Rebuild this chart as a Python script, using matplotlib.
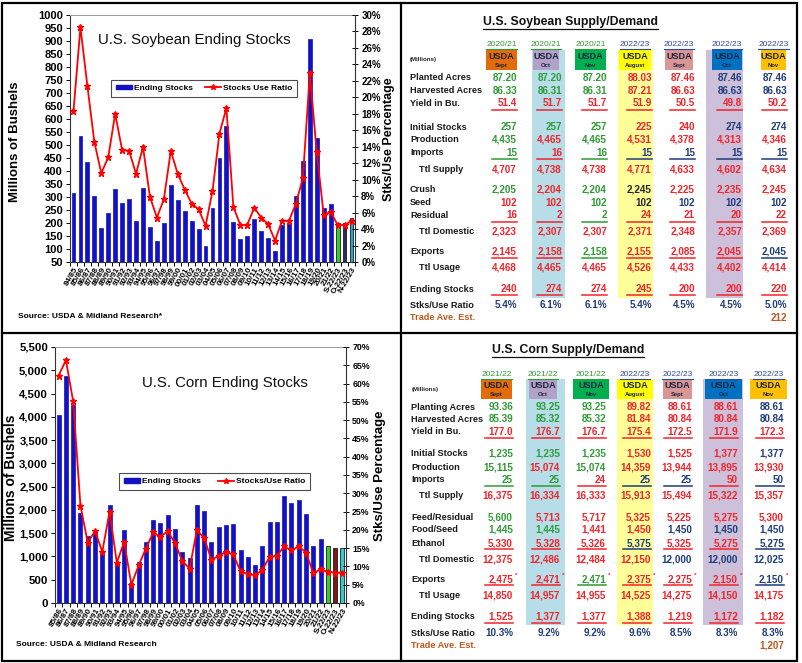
import numpy as np
import matplotlib
matplotlib.use('Agg')
import matplotlib.pyplot as plt
from matplotlib.patches import Rectangle, Patch
from matplotlib.lines import Line2D
from matplotlib.ticker import FuncFormatter

plt.rcParams['font.family'] = ['Liberation Sans', 'DejaVu Sans']
plt.rcParams['font.weight'] = 'bold'

# ---------------- chart data ----------------
soy_labels = ['84/85', '85/86', '86/87', '87/88', '88/89', '89/90', '90/91', '91/92', '92/93', '93/94',
              '94/95', '95/96', '96/97', '97/98', '98/99', '99/00', '00/01', '01/02', '02/03', '03/04',
              '04/05', '05/06', '06/07', '07/08', '08/09', '09/10', '10/11', '11/12', '12/13', '13/14',
              '14/15', '15/16', '16/17', '17/18', '18/19', '19/20', '20/21', '21/22',
              'S-22/23', 'O-22/23', 'N-22/23']
soy_stocks = [316, 536, 436, 302, 182, 239, 329, 278, 292, 209,
              335, 183, 132, 200, 348, 290, 248, 208, 178, 112,
              256, 449, 574, 205, 138, 151, 215, 169, 141, 92,
              191, 197, 302, 438, 909, 525, 257, 274,
              200, 200, 220]
soy_ratio = [18.3, 28.5, 21.4, 14.6, 10.8, 12.7, 18.0, 13.6, 13.5, 10.7,
             14.0, 7.9, 5.4, 7.6, 13.5, 10.7, 8.8, 7.1, 6.4, 4.4,
             8.6, 15.6, 18.7, 6.7, 4.5, 4.5, 6.6, 5.4, 4.6, 2.6,
             5.0, 5.0, 7.1, 10.2, 22.9, 13.3, 5.7, 6.1,
             4.5, 4.5, 5.0]

corn_labels = ['85/86', '86/87', '87/88', '88/89', '89/90', '90/91', '91/92', '92/93', '93/94', '94/95',
               '95/96', '96/97', '97/98', '98/99', '99/00', '00/01', '01/02', '02/03', '03/04', '04/05',
               '05/06', '06/07', '07/08', '08/09', '09/10', '10/11', '11/12', '12/13', '13/14', '14/15',
               '15/16', '16/17', '17/18', '18/19', '19/20', '20/21', '21/22',
               'S-22/23', 'O-22/23', 'N-22/23']
corn_stocks = [4040, 4880, 4260, 1930, 1450, 1520, 1100, 2110, 850, 1560,
               426, 883, 1310, 1787, 1718, 1899, 1596, 1087, 958, 2114,
               1967, 1304, 1624, 1673, 1708, 1128, 989, 821, 1232, 1731,
               1737, 2293, 2140, 2221, 1919, 1235, 1377,
               1219, 1172, 1182]
corn_ratio = [62.2, 66.4, 55.1, 26.6, 16.5, 19.7, 14.0, 25.0, 11.0, 16.7,
              5.0, 10.3, 14.9, 19.3, 18.1, 19.7, 16.3, 11.5, 9.4, 19.9,
              17.8, 11.8, 12.9, 14.0, 13.3, 8.7, 7.9, 7.6, 9.1, 12.6,
              12.9, 15.5, 14.4, 15.5, 13.8, 8.2, 9.2,
              8.5, 8.3, 8.3]

# ---------------- table data ----------------
soy_years = ['2020/21', '2020/21', '2020/21', '2022/23', '2022/23', '2022/23', '2022/23']
soy_months = ['Sept', 'Oct', 'Nov', 'August', 'Sept', 'Oct', 'Nov']
soy_rows = ['Planted Acres', 'Harvested Acres', 'Yield in Bu.',
            'Initial Stocks', 'Production', 'Imports', 'Ttl Supply',
            'Crush', 'Seed', 'Residual', 'Ttl Domestic',
            'Exports', 'Ttl Usage', 'Ending Stocks', 'Stks/Use Ratio']
soy_values = [
    ['87.20', '87.20', '87.20', '88.03', '87.46', '87.46', '87.46'],
    ['86.33', '86.31', '86.31', '87.21', '86.63', '86.63', '86.63'],
    ['51.4', '51.7', '51.7', '51.9', '50.5', '49.8', '50.2'],
    ['257', '257', '257', '225', '240', '274', '274'],
    ['4,435', '4,465', '4,465', '4,531', '4,378', '4,313', '4,346'],
    ['15', '16', '16', '15', '15', '15', '15'],
    ['4,707', '4,738', '4,738', '4,771', '4,633', '4,602', '4,634'],
    ['2,205', '2,204', '2,204', '2,245', '2,225', '2,235', '2,245'],
    ['102', '102', '102', '102', '102', '102', '102'],
    ['16', '2', '2', '24', '21', '20', '22'],
    ['2,323', '2,307', '2,307', '2,371', '2,348', '2,357', '2,369'],
    ['2,145', '2,158', '2,158', '2,155', '2,085', '2,045', '2,045'],
    ['4,468', '4,465', '4,465', '4,526', '4,433', '4,402', '4,414'],
    ['240', '274', '274', '245', '200', '200', '220'],
    ['5.4%', '6.1%', '6.1%', '5.4%', '4.5%', '4.5%', '5.0%'],
]
soy_trade = ['', '', '', '', '', '', '212']

corn_years = ['2021/22', '2021/22', '2021/22', '2022/23', '2022/23', '2022/23', '2022/23']
corn_months = ['Sept', 'Oct', 'Nov', 'August', 'Sept', 'Oct', 'Nov']
corn_rows = ['Planting Acres', 'Harvested Acres', 'Yield in Bu.',
             'Initial Stocks', 'Production', 'Imports', 'Ttl Supply',
             'Feed/Residual', 'Food/Seed', 'Ethanol', 'Ttl Domestic',
             'Exports', 'Ttl Usage', 'Ending Stocks', 'Stks/Use Ratio']
corn_values = [
    ['93.36', '93.25', '93.25', '89.82', '88.61', '88.61', '88.61'],
    ['85.39', '85.32', '85.32', '81.84', '80.84', '80.84', '80.84'],
    ['177.0', '176.7', '176.7', '175.4', '172.5', '171.9', '172.3'],
    ['1,235', '1,235', '1,235', '1,530', '1,525', '1,377', '1,377'],
    ['15,115', '15,074', '15,074', '14,359', '13,944', '13,895', '13,930'],
    ['25', '25', '24', '25', '25', '50', '50'],
    ['16,375', '16,334', '16,333', '15,913', '15,494', '15,322', '15,357'],
    ['5,600', '5,713', '5,717', '5,325', '5,225', '5,275', '5,300'],
    ['1,445', '1,445', '1,441', '1,450', '1,450', '1,450', '1,450'],
    ['5,330', '5,328', '5,326', '5,375', '5,325', '5,275', '5,275'],
    ['12,375', '12,486', '12,484', '12,150', '12,000', '12,000', '12,025'],
    ['2,475', '2,471', '2,471', '2,375', '2,275', '2,150', '2,150'],
    ['14,850', '14,957', '14,955', '14,525', '14,275', '14,150', '14,175'],
    ['1,525', '1,377', '1,377', '1,388', '1,219', '1,172', '1,182'],
    ['10.3%', '9.2%', '9.2%', '9.6%', '8.5%', '8.3%', '8.3%'],
]
corn_trade = ['', '', '', '', '', '', '1,207']

# ---------------- styles ----------------
G, R, N, K = '#2F9A36', '#F2242B', '#1F3C7A', '#262626'
BRN = '#C0561E'
CMAP = {'g': G, 'r': R, 'n': N, 'k': K}
soy_col_codes = ['gggrrnn', 'gggrrnn', 'rrrrrrr', 'gggrrnn', 'grgrrrr', 'grgnnnn', 'rrrrrrr',
                 'grgkrrr', 'rrgknnn', 'rrgrrrr', 'rrrrrrr', 'rrgrrrn', 'rrrrrrr', 'rrrrrrr', 'nnnnnnn']
corn_col_codes = ['gggrrrn', 'gggrrrn', 'rrrrrrr', 'gggrrrn', 'grgrrrr', 'ggrnnrn', 'rrrrrrr',
                  'grrrrrr', 'ggrrnnn', 'rrrnrrn', 'rrrrnnn', 'rrgrrrn', 'rrrrrrr', 'rrrrrrr', 'nnnnnnn']
BOX_COLORS = ['#E36C09', '#B3A2C7', '#00B050', '#FFFF00', '#DA9694', '#0070C0', '#FFC000']
BLUE = '#1212C4'

W, H = 803, 663
fig = plt.figure(figsize=(W / 100, H / 100), dpi=100)
bg = fig.add_axes([0, 0, 1, 1], zorder=0)
bg.set_xlim(0, W)
bg.set_ylim(H, 0)
bg.axis('off')


def frac(x0, y0, x1, y1):
    return [x0 / W, 1 - y1 / H, (x1 - x0) / W, (y1 - y0) / H]


def draw_chart(rect, labels, stocks, ratio, tail_colors, ylim, ystep, yfmt, rmax, rstep,
               title, title_pos, leg_center, leg_spacing, line_label, yfs, rfs):
    ax = fig.add_axes(rect, zorder=2)
    n = len(labels)
    x = np.arange(n)
    cols = [BLUE] * (n - 3) + tail_colors
    edges = [BLUE] * (n - 3) + ['black'] * 3
    ax.bar(x, stocks, width=0.55, color=cols, edgecolor=edges, linewidth=0.5)
    ax.set_xlim(-0.5, n - 0.5)
    ax.set_ylim(*ylim)
    ax.set_yticks(np.arange(ylim[0], ylim[1] + 1, ystep))
    ax.yaxis.set_major_formatter(FuncFormatter(yfmt))
    ax.set_xticks(x)
    ax.set_xticklabels(labels, rotation=60, ha='right', rotation_mode='anchor', fontsize=5.8)
    ax.tick_params(axis='x', which='major', length=0, pad=3)
    ax.set_xticks(np.arange(-0.5, n, 1), minor=True)
    ax.tick_params(axis='x', which='minor', length=3, direction='out', width=0.7)
    ax.tick_params(axis='y', labelsize=yfs, length=3, direction='out', pad=2, width=0.7)
    ax.spines['top'].set_color('#9a9a9a')
    ax.spines['top'].set_linewidth(0.7)
    ax.spines['right'].set_visible(False)
    for s in ('left', 'bottom'):
        ax.spines[s].set_color('#333333')
        ax.spines[s].set_linewidth(0.8)
    ax2 = ax.twinx()
    ax2.plot(x, ratio, color='#FF0000', lw=1.3, marker='*', ms=5, mec='#FF0000')
    ax2.set_ylim(0, rmax)
    ax2.set_yticks(np.arange(0, rmax + 0.01, rstep))
    ax2.yaxis.set_major_formatter(FuncFormatter(lambda v, p: f'{v:.0f}%'))
    ax2.tick_params(axis='y', labelsize=rfs, length=5, direction='inout', pad=2, width=0.7)
    for s in ('left', 'top', 'bottom'):
        ax2.spines[s].set_visible(False)
    ax2.spines['right'].set_color('#333333')
    ax2.spines['right'].set_linewidth(0.8)
    ax2.text(title_pos[0], title_pos[1], title, transform=ax.transAxes, ha='center', va='center',
             fontsize=10.8, fontweight='normal', color='#111111')
    handles = [Patch(facecolor=BLUE, edgecolor=BLUE),
               Line2D([], [], color='#FF0000', lw=1.3, marker='*', ms=4)]
    leg = ax2.legend(handles, ['Ending Stocks', line_label], loc='center', bbox_to_anchor=leg_center,
                     ncol=2, fontsize=6, frameon=True, fancybox=False,
                     edgecolor='#222222', handlelength=2.0, handleheight=0.5, borderpad=0.55,
                     handletextpad=0.2, columnspacing=leg_spacing, borderaxespad=0)
    leg.get_frame().set_linewidth(0.8)
    return ax, ax2


# Soybean chart
draw_chart(frac(70, 15, 355, 262), soy_labels, soy_stocks, soy_ratio,
           ['#33CC33', '#3B2466', '#2FA3C8'], (50, 1000), 50, lambda v, p: f'{v:.0f}',
           30, 2, 'U.S. Soybean Ending Stocks', (0.435, 0.90),
           (0.47, 0.703), 1.4, 'Stocks Use Ratio', 8, 7)
# Corn chart
draw_chart(frac(55, 347, 346, 603), corn_labels, corn_stocks, corn_ratio,
           ['#33CC33', '#7A1A1A', '#33CCCC'], (0, 5500), 500, lambda v, p: f'{v:,.0f}',
           70, 5, 'U.S. Corn Ending Stocks', (0.584, 0.86),
           (0.548, 0.474), 2.0, 'Stocks/Use Ratio', 8.2, 6.3)

# axis titles and sources
bg.text(15, 142, 'Millions of Bushels', rotation=90, ha='center', va='center', fontsize=9.5)
bg.text(389, 139, 'Stks/Use Percentage', rotation=90, ha='center', va='center', fontsize=9)
bg.text(18, 316, 'Source: USDA & Midland Research*', ha='left', va='center', fontsize=6)
bg.text(11, 478, 'Millions of Bushels', rotation=90, ha='center', va='center', fontsize=10)
bg.text(380, 476, 'Stks/Use Percentage', rotation=90, ha='center', va='center', fontsize=9.5)
bg.text(16, 644, 'Source: USDA & Midland Research', ha='left', va='center', fontsize=6)

# panel borders
bg.add_patch(Rectangle((2.5, 2.5), 795, 658, fill=False, edgecolor='black', lw=1.6))
bg.plot([401, 401], [2.5, 660.5], color='black', lw=1.6)
bg.plot([2.5, 797.5], [333, 333], color='black', lw=1.6)

underlines = []


def draw_table(title, title_xy, years, year_cols, months, rows, values, codes, trade,
               under_rows, indent_rows, rights, box_lr, box_y, year_y, shade_lr, shade_y,
               row_y, trade_y, label_x, indent_x, uw):
    # column shading
    for (l, r), c in zip(shade_lr, ['#B7DEE8', '#FFFF99', '#CCC0DA']):
        bg.add_patch(Rectangle((l, shade_y[0]), r - l, shade_y[1] - shade_y[0], facecolor=c,
                               edgecolor='none', zorder=1))
    t = bg.text(title_xy[0], title_xy[1], title, ha='center', va='center', fontsize=8.8,
                color='#111111', zorder=3)
    underlines.append((t, '#111111', 0.9, 1.0))
    bg.text(label_x, (box_y[0] + box_y[1]) / 2, '(Millions)', ha='left', va='center',
            fontsize=4.4, color='#222222', zorder=3)
    for j in range(7):
        l, r = box_lr[j]
        cx = (l + r) / 2
        bg.add_patch(Rectangle((l, box_y[0]), r - l, box_y[1] - box_y[0], facecolor=BOX_COLORS[j],
                               edgecolor='none', zorder=2))
        bg.text(cx, box_y[0] + 6.5, 'USDA', ha='center', va='center', fontsize=6.6,
                color='#1B2440', zorder=3)
        bg.text(cx, box_y[0] + 15.5, months[j], ha='center', va='center', fontsize=4.2,
                color='#1B2440', zorder=3)
        yt = bg.text(cx, year_y, years[j], ha='center', va='center', fontsize=6, fontweight='normal',
                     color=year_cols[j], zorder=3)
        underlines.append((yt, year_cols[j], 0.8, 0.6))
    for i, lab in enumerate(rows):
        x0 = indent_x if i in indent_rows else label_x
        bg.text(x0, row_y[i], lab, ha='left', va='center', fontsize=6.6, color='#1A1A1A', zorder=3)
        for j in range(7):
            c = CMAP[codes[i][j]]
            bg.text(rights[j], row_y[i], values[i][j], ha='right', va='center', fontsize=7.1,
                    color=c, zorder=3)
            if i in under_rows:
                bg.plot([rights[j] - uw, rights[j]], [row_y[i] + 6, row_y[i] + 6], color=c, lw=1.1,
                        zorder=3)
    bg.text(label_x, trade_y, 'Trade Ave. Est.', ha='left', va='center', fontsize=6.6, color=BRN,
            zorder=3)
    for j in range(7):
        if trade[j]:
            bg.text(rights[j], trade_y, trade[j], ha='right', va='center', fontsize=7.1, color=BRN,
                    zorder=3)


YC = ['#2F9A36'] * 3 + ['#2E4A9A'] * 4

draw_table('U.S. Soybean Supply/Demand', (571, 22), soy_years, YC, soy_months, soy_rows, soy_values,
           soy_col_codes, soy_trade, under_rows={2, 5, 9, 11, 13}, indent_rows={6, 10, 12},
           rights=[517, 562, 607, 652, 695, 742, 787],
           box_lr=[(486, 517), (533, 559), (575, 606), (619, 651), (665, 693), (712, 742), (761, 786)],
           box_y=(50, 70), year_y=45,
           shade_lr=[(532, 565), (618, 653), (706, 743)], shade_y=(50, 298),
           row_y=[78, 90.5, 103.5, 127, 139.5, 152.5, 169, 190, 202.5, 215.5, 232, 251.5, 268, 289, 305],
           trade_y=318, label_x=410, indent_x=419, uw=25)

draw_table('U.S. Corn Supply/Demand', (568, 350), corn_years, YC, corn_months, corn_rows, corn_values,
           corn_col_codes, corn_trade, under_rows={2, 5, 9, 11, 13}, indent_rows={6, 10, 12},
           rights=[513, 560, 606, 651, 692, 738, 784],
           box_lr=[(481, 512), (529, 557), (573, 609), (617, 653), (663, 692), (705, 742), (750, 787)],
           box_y=(379, 399), year_y=374.5,
           shade_lr=[(526, 565), (617, 653), (703, 743)], shade_y=(379, 625),
           row_y=[407, 419.5, 432, 454, 467, 480, 496, 517, 530, 543, 559.5, 579, 596, 616.5, 633],
           trade_y=645, label_x=411.5, indent_x=419, uw=28)

# small marks after corn export values
for j, rx in enumerate([513, 560, 606, 651, 692, 738, 784]):
    bg.text(rx + 2, 575, '*', ha='left', va='center', fontsize=4.5, color=R, zorder=3)

# underline titles / year labels from their rendered extents
fig.canvas.draw()
rend = fig.canvas.get_renderer()
inv = bg.transData.inverted()
for t, c, lw, gap in underlines:
    bb = t.get_window_extent(rend)
    (x0, y0), (x1, y1) = inv.transform([(bb.x0, bb.y0), (bb.x1, bb.y1)])
    bg.plot([x0, x1], [y0 + gap, y0 + gap], color=c, lw=lw, zorder=3)

fig.savefig('out.png', dpi=100)
